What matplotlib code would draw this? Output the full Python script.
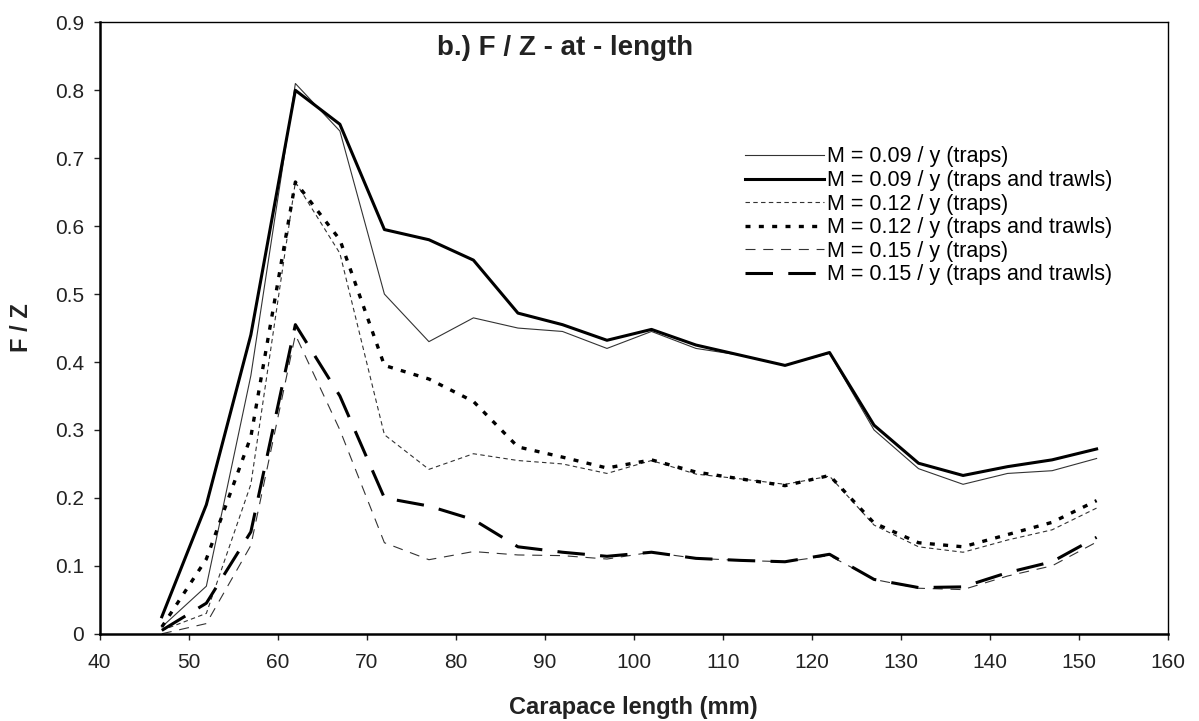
import matplotlib.pyplot as plt

plt.rcParams['font.family'] = ['Liberation Sans', 'DejaVu Sans']

length = [47, 52, 57, 62, 67, 72, 77, 82, 87, 92, 97, 102, 107, 112, 117, 122,
          127, 132, 137, 142, 147, 152]

m09_traps = [0.01, 0.07, 0.38, 0.81, 0.74, 0.50, 0.43, 0.465, 0.45, 0.445, 0.42, 0.445,
             0.42, 0.41, 0.395, 0.413, 0.30, 0.243, 0.22, 0.236, 0.24, 0.258]
m09_both = [0.025, 0.19, 0.44, 0.80, 0.75, 0.595, 0.58, 0.55, 0.472, 0.455, 0.432, 0.448,
            0.425, 0.41, 0.395, 0.414, 0.307, 0.251, 0.233, 0.246, 0.256, 0.272]
m12_traps = [0.005, 0.03, 0.22, 0.665, 0.56, 0.293, 0.242, 0.265, 0.255, 0.25, 0.236, 0.255,
             0.235, 0.228, 0.22, 0.232, 0.16, 0.128, 0.12, 0.138, 0.153, 0.185]
m12_both = [0.01, 0.11, 0.29, 0.665, 0.58, 0.395, 0.375, 0.342, 0.275, 0.26, 0.244, 0.256,
            0.238, 0.228, 0.218, 0.233, 0.163, 0.134, 0.128, 0.146, 0.164, 0.196]
m15_traps = [0.0, 0.015, 0.13, 0.44, 0.30, 0.134, 0.109, 0.121, 0.116, 0.115, 0.11, 0.12,
             0.111, 0.108, 0.106, 0.115, 0.08, 0.067, 0.065, 0.085, 0.1, 0.135]
m15_both = [0.005, 0.045, 0.15, 0.455, 0.35, 0.20, 0.188, 0.168, 0.128, 0.12, 0.114, 0.12,
            0.111, 0.108, 0.106, 0.117, 0.08, 0.068, 0.069, 0.09, 0.106, 0.142]

labels = ['M = 0.09 / y (traps)', 'M = 0.09 / y (traps and trawls)',
          'M = 0.12 / y (traps)', 'M = 0.12 / y (traps and trawls)',
          'M = 0.15 / y (traps)', 'M = 0.15 / y (traps and trawls)']

fig = plt.figure(figsize=(11.99, 7.21), dpi=100)
ax = fig.add_axes([0.083, 0.121, 0.891, 0.848])

ax.plot(length, m09_traps, color='#333333', lw=0.8, label=labels[0])
ax.plot(length, m09_both, color='black', lw=2.2, label=labels[1])
ax.plot(length, m12_traps, color='#333333', lw=0.8, dashes=(4, 3), label=labels[2])
ax.plot(length, m12_both, color='black', lw=2.4, dashes=(1.5, 2.5), label=labels[3])
ax.plot(length, m15_traps, color='#333333', lw=0.8, dashes=(9, 7), label=labels[4])
ax.plot(length, m15_both, color='black', lw=2.2, dashes=(9, 5), label=labels[5])

ax.set_xlim(40, 160)
ax.set_ylim(0, 0.9)
ax.set_xticks(range(40, 161, 10))
ax.set_yticks([i / 10 for i in range(10)])
ax.set_yticklabels(['0'] + ['%.1f' % (i / 10) for i in range(1, 10)])
ax.tick_params(labelsize=15, direction='out', length=4, width=1, colors='#222222')
ax.tick_params(axis='x', pad=10)
ax.tick_params(axis='y', pad=7)

for side in ['left', 'bottom']:
    ax.spines[side].set_linewidth(1.8)
for side in ['top', 'right']:
    ax.spines[side].set_linewidth(1.0)

ax.set_xlabel('Carapace length (mm)', fontsize=17, fontweight='bold', labelpad=17,
              color='#222222')
ax.set_ylabel('F / Z', fontsize=17, fontweight='bold', labelpad=16, color='#222222')

ax.text(92.3, 0.862, 'b.) F / Z - at - length', fontsize=20, fontweight='bold',
        ha='center', va='center', color='#222222')

ax.legend(loc='upper left', bbox_to_anchor=(0.604, 0.797), frameon=False,
          fontsize=15.5, handlelength=3.7, handletextpad=0.1, labelspacing=0.12,
          borderaxespad=0, borderpad=0)

fig.savefig('out.png', dpi=100)
